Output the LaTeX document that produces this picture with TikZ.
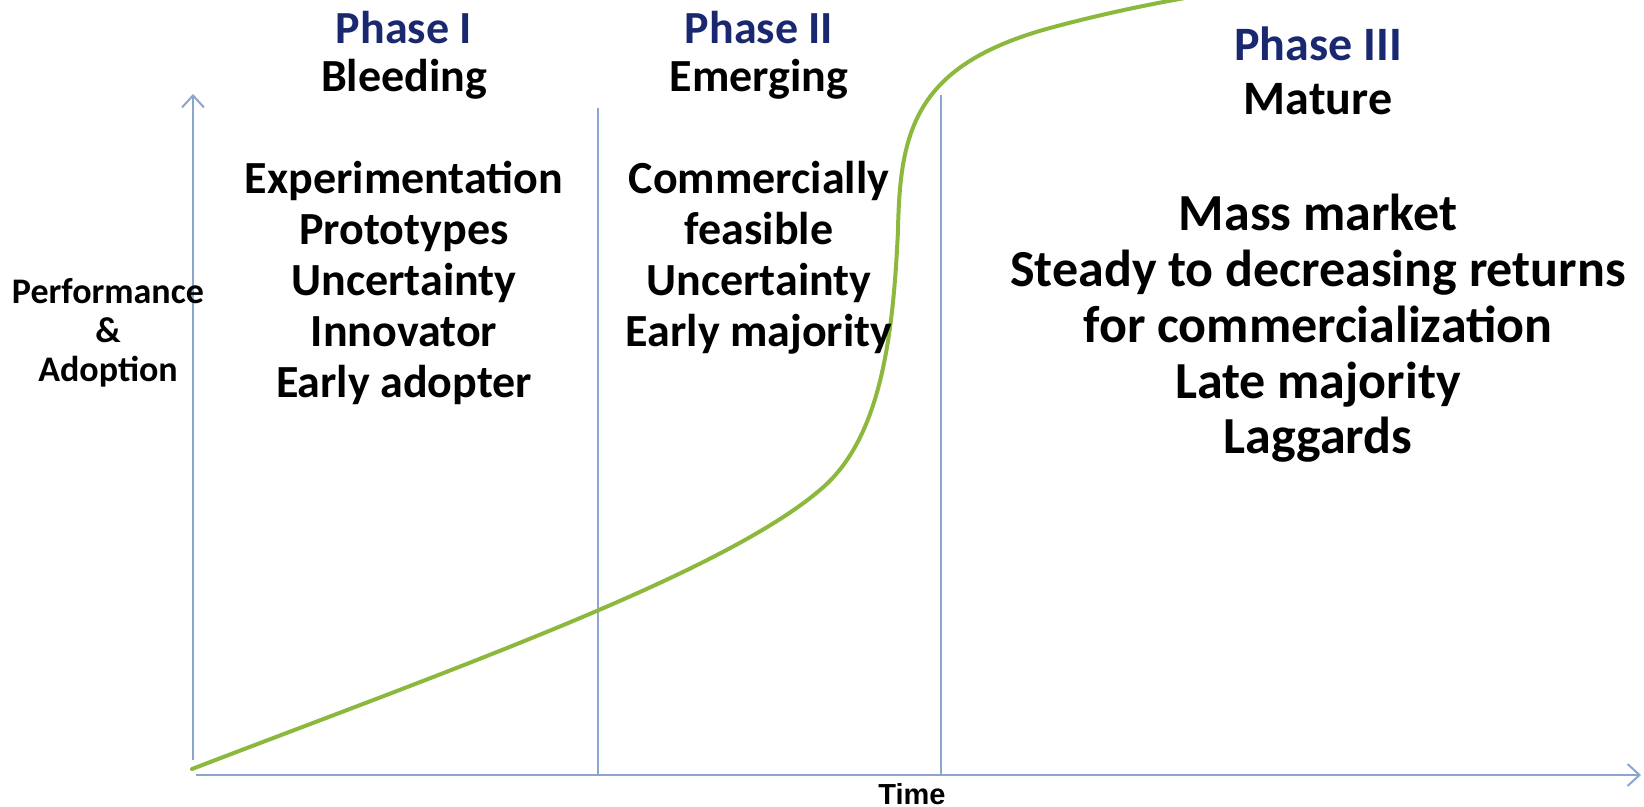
\documentclass[tikz,border=0pt]{standalone}
\usepackage{fontspec}
\setmainfont{Carlito}
\newfontfamily\arialfont{Liberation Sans}
\usetikzlibrary{arrows.meta}
\definecolor{navy}{RGB}{26,40,112}
\definecolor{axisblue}{RGB}{140,165,206}
\definecolor{curvegreen}{RGB}{140,184,62}
\begin{document}
\begin{tikzpicture}[x=0.5pt,y=-0.5pt,
  axisline/.style={draw=axisblue, line width=1pt},
  axisarrow/.style={axisline, -{Straight Barb[length=6pt,width=11pt,line width=1pt]}},
  divider/.style={draw=axisblue, line width=0.9pt},
  scurve/.style={draw=curvegreen, line width=2pt, line cap=round},
  title/.style={anchor=base, align=center, inner sep=0pt, font=\bfseries\fontsize{23}{24}\selectfont},
  titlebig/.style={anchor=base, align=center, inner sep=0pt, font=\bfseries\fontsize{24}{27}\selectfont},
  body/.style={anchor=base, align=center, inner sep=0pt, font=\bfseries\fontsize{23}{25.5}\selectfont},
  bodybig/.style={anchor=base, align=center, inner sep=0pt, font=\bfseries\fontsize{26}{27.9}\selectfont},
  ylabel/.style={anchor=base, align=center, inner sep=0pt, font=\bfseries\fontsize{18}{19.5}\selectfont},
  xlabel/.style={anchor=base, inner sep=0pt, font=\arialfont\bfseries\fontsize{14.5}{16}\selectfont}
]
\useasboundingbox (0,0) rectangle (1644,807);
% axes
\coordinate (O) at (193,760);
\coordinate (Ytop) at (193,94);
\coordinate (Xs) at (196,775);
\coordinate (Xend) at (1641,775);
\draw[axisarrow] (O) -- (Ytop);
\draw[axisarrow] (Xs) -- (Xend);
% phase dividers
\coordinate (D1t) at (598,108);
\coordinate (D1b) at (598,775);
\coordinate (D2t) at (941,95);
\coordinate (D2b) at (941,775);
\draw[divider] (D1t) -- (D1b);
\draw[divider] (D2t) -- (D2b);
% S-curve
\coordinate (C0) at (192,769);
\coordinate (C1) at (820,490);
\coordinate (C2) at (898,230);
\coordinate (C3) at (1050,28);
\coordinate (C4) at (1260,-14);
\draw[scurve] (C0) .. controls (450,670) and (720,575) .. (C1)
  .. controls (880,440) and (893,340) .. (C2)
  .. controls (900,130) and (915,65) .. (C3)
  .. controls (1120,9) and (1190,-4) .. (C4);
% titles
\node[title] (p1) at (404,92) {\textcolor{navy}{Phase I}\\Bleeding};
\node[title] (p2) at (759,92) {\textcolor{navy}{Phase II}\\Emerging};
\node[titlebig] (p3) at (1318,115) {\textcolor{navy}{Phase III}\\Mature};
% lists
\node[body] (l1) at (404,398) {Experimentation\\Prototypes\\Uncertainty\\Innovator\\Early adopter};
\node[body] (l2) at (759,347) {Commercially\\feasible\\Uncertainty\\Early majority};
\node[bodybig] (l3) at (1318,454) {Mass market\\Steady to decreasing returns\\for commercialization\\Late majority\\Laggards};
% axis labels
\node[ylabel] (yl) at (108,382) {Performance\\\&\\Adoption};
\node[xlabel] (xl) at (912,804) {Time};
\end{tikzpicture}
\end{document}
